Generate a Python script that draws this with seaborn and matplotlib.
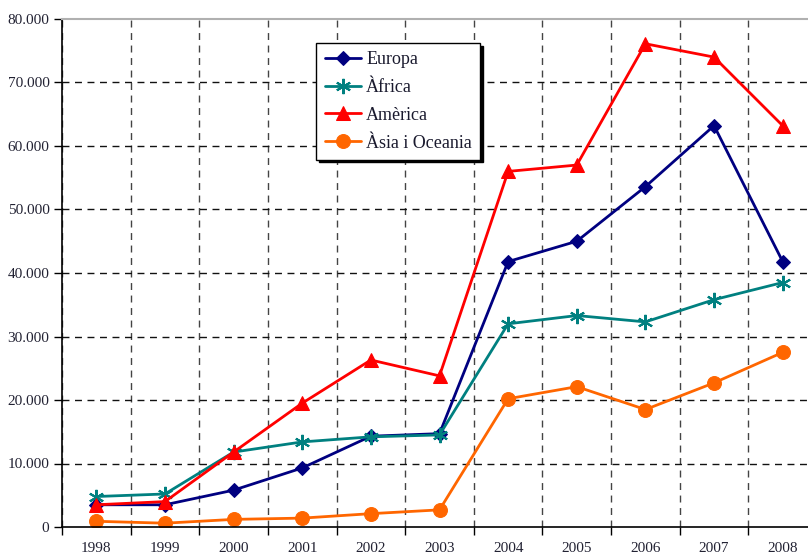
import matplotlib
matplotlib.use("Agg")
import matplotlib.pyplot as plt
import seaborn as sns
import pandas as pd
import numpy as np
from matplotlib.ticker import FuncFormatter, FixedLocator

years = ["1998", "1999", "2000", "2001", "2002", "2003", "2004", "2005", "2006", "2007", "2008"]
europa = [3500, 3500, 5800, 9300, 14300, 14700, 41800, 45000, 53600, 63200, 41800]
africa = [4800, 5200, 11800, 13400, 14200, 14500, 32000, 33300, 32300, 35800, 38500]
america = [3500, 4000, 11800, 19500, 26300, 23800, 56000, 57000, 76100, 74000, 63200]
asia = [900, 600, 1200, 1400, 2100, 2700, 20200, 22100, 18500, 22700, 27500]

series_names = ["Europa", "Àfrica", "Amèrica", "Àsia i Oceania"]
series_vals = [europa, africa, america, asia]
colors = ["#000080", "#008080", "#FF0000", "#FF6600"]
markers = ["D", (6, 2, 0), "^", "o"]
msizes = [7, 11, 10, 10]

sns.set_theme(style="white")
plt.rcParams["font.family"] = ["Liberation Serif", "DejaVu Serif"]

fig = plt.figure(figsize=(8.08, 5.55), dpi=100)
ax = fig.add_axes([62 / 808, 28 / 555, 755 / 808, 508 / 555])

x = np.arange(len(years))
for name, vals, c, m, ms in zip(series_names, series_vals, colors, markers, msizes):
    df = pd.DataFrame({"x": x, "v": vals})
    kw = dict(marker=m, markersize=ms, color=c, linewidth=2, label=name)
    if m == (6, 2, 0):
        kw.update(markeredgewidth=1.5, markeredgecolor=c)
    else:
        kw.update(markeredgecolor=c, markerfacecolor=c)
    sns.lineplot(data=df, x="x", y="v", ax=ax, **kw)

ax.set_xlim(-0.5, len(years) - 0.5)
ax.set_ylim(0, 80000)
ax.set_xlabel("")
ax.set_ylabel("")

ax.xaxis.set_major_locator(FixedLocator(x))
ax.set_xticklabels(years)
ax.xaxis.set_minor_locator(FixedLocator(np.arange(-0.5, len(years), 1.0)))
ax.yaxis.set_major_locator(FixedLocator(np.arange(0, 80001, 10000)))
ax.yaxis.set_major_formatter(FuncFormatter(lambda v, p: f"{int(v):,}".replace(",", ".")))

ax.grid(False)
ax.grid(True, which="minor", axis="x", color="#444444", linestyle=(0, (5, 4)), linewidth=1)
ax.grid(True, which="major", axis="y", color="#111111", linestyle=(0, (5, 4)), linewidth=1)
ygl = ax.yaxis.get_gridlines()
ygl[-1].set_visible(False)
ygl[0].set_visible(False)

ax.tick_params(axis="x", which="major", length=0, pad=11, labelsize=11, labelcolor="#222233")
ax.tick_params(axis="x", which="minor", length=6, width=1, color="black", direction="out", bottom=True)
ax.tick_params(axis="y", which="major", length=6, width=1, color="black", direction="out", left=True,
               labelsize=11, labelcolor="#222233", pad=3)

for s in ["left", "bottom"]:
    ax.spines[s].set_color("black")
    ax.spines[s].set_linewidth(1.2)
ax.spines["top"].set_color("#b0b0b0")
ax.spines["top"].set_linewidth(1.5)
ax.spines["right"].set_visible(False)

leg = ax.legend(loc="upper left", bbox_to_anchor=(0.337, 0.953), borderaxespad=0,
                fontsize=13, frameon=True, fancybox=False, edgecolor="black",
                framealpha=1, handlelength=2.0, handletextpad=0.3, labelspacing=0.6,
                borderpad=0.45, shadow={"color": "black", "alpha": 1})
leg.get_frame().set_linewidth(1)
for t in leg.get_texts():
    t.set_color("#1a1a2e")

fig.savefig("out.png", dpi=100)
